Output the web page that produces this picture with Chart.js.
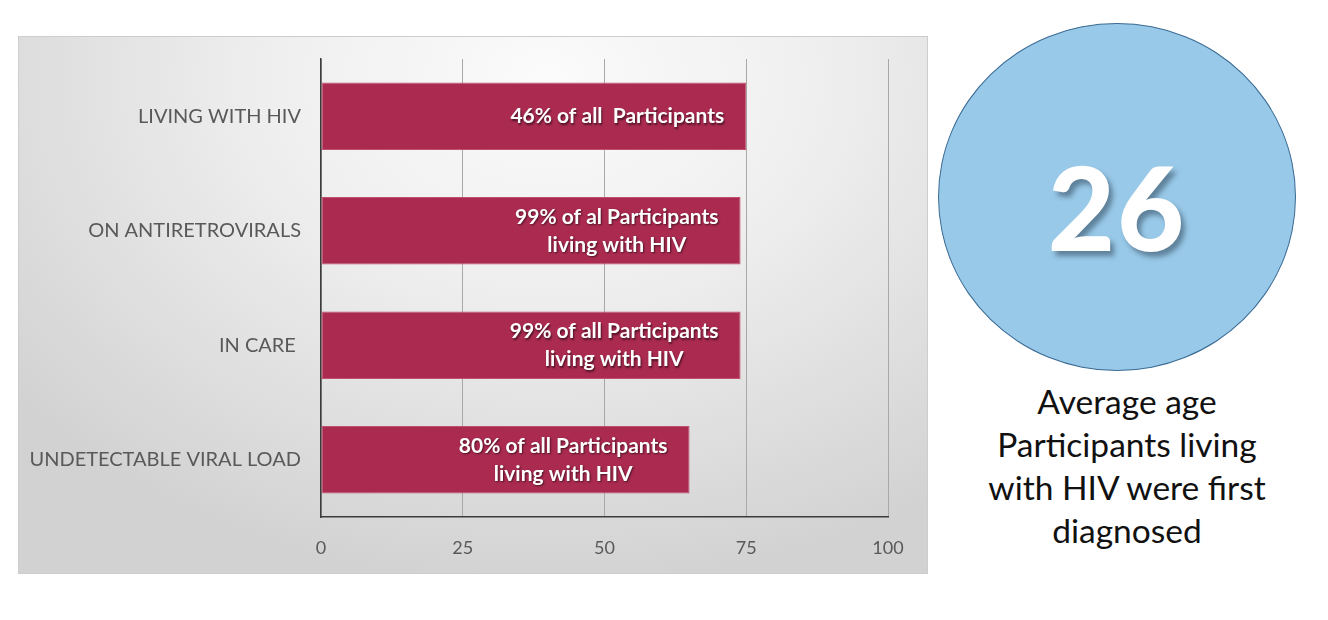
<!DOCTYPE html>
<html>
<head>
<meta charset="utf-8">
<script src="https://cdn.jsdelivr.net/npm/chart.js@4"></script>
<style>
  html, body { margin:0; padding:0; background:#ffffff; width:1328px; height:620px; overflow:hidden; }
  #panel {
    position:absolute; left:18px; top:36px; width:910px; height:538px;
    box-sizing:border-box; border:1px solid #cdcdcd;
    background: radial-gradient(ellipse 75% 95% at 58% 8%, #fbfbfb 0%, #efefef 40%, #dedede 75%, #d2d2d2 100%);
  }
  #panel canvas { position:absolute; left:0; top:0; }
  #circle {
    position:absolute; left:938px; top:23px; width:358px; height:348px;
    box-sizing:border-box; border-radius:50%;
    background:#98c9e8; border:1.5px solid #3a6a93;
  }
  #big {
    position:absolute; left:938px; top:23px; width:358px; height:348px;
    display:flex; align-items:center; justify-content:center;
    font-family: Lato, "DejaVu Sans", sans-serif; font-weight:900; font-size:116px; color:#ffffff;
    text-shadow: 4px 5px 5px rgba(40,60,80,0.5);
    padding-top:18px; box-sizing:border-box; letter-spacing:2px;
  }
  #caption {
    position:absolute; left:967px; top:380px; width:320px; text-align:center;
    font-family: Lato, "Open Sans", sans-serif; font-size:33.5px; line-height:43px; color:#111111;
  }
</style>
</head>
<body>
<div id="panel"><canvas id="c" width="910" height="538"></canvas></div>
<div id="circle"></div>
<div id="big">26</div>
<div id="caption">Average age<br>Participants living<br>with HIV were first<br>diagnosed</div>
<script>
const categories = ["LIVING WITH HIV", "ON ANTIRETROVIRALS", "IN CARE ", "UNDETECTABLE VIRAL LOAD"];
const barValues = [75, 74, 74, 65];
const barTexts = [
  ["46% of all  Participants"],
  ["99% of al Participants", "living with HIV"],
  ["99% of all Participants", "living with HIV"],
  ["80% of all Participants", "living with HIV"]
];
const xTicks = [0, 25, 50, 75, 100];

const barTextPlugin = {
  id: 'barText',
  afterDatasetsDraw(chart) {
    const ctx = chart.ctx;
    const meta = chart.getDatasetMeta(0);
    ctx.save();
    ctx.font = 'bold 21px Lato, "Open Sans", sans-serif';
    ctx.fillStyle = '#ffffff';
    ctx.textAlign = 'center';
    ctx.textBaseline = 'middle';
    ctx.shadowColor = 'rgba(0,0,0,0.55)';
    ctx.shadowOffsetX = 1;
    ctx.shadowOffsetY = 1.5;
    ctx.shadowBlur = 2;
    meta.data.forEach((bar, i) => {
      const lines = barTexts[i];
      let maxW = 0;
      lines.forEach(l => { maxW = Math.max(maxW, ctx.measureText(l).width); });
      const cx = bar.x - 22 - maxW / 2;
      const lh = 28;
      const y0 = bar.y - (lines.length - 1) * lh / 2;
      lines.forEach((l, k) => ctx.fillText(l, cx, y0 + k * lh));
    });
    ctx.restore();
  }
};

new Chart(document.getElementById('c'), {
  type: 'bar',
  data: {
    labels: categories,
    datasets: [{
      data: barValues,
      backgroundColor: '#aa2a50',
      borderColor: '#c0506f',
      borderWidth: 1,
      borderSkipped: false,
      barPercentage: 0.59,
      categoryPercentage: 1.0
    }]
  },
  options: {
    indexAxis: 'y',
    responsive: false,
    animation: false,
    devicePixelRatio: 1,
    layout: { padding: { top: 22, right: 41, left: 0, bottom: 0 } },
    plugins: { legend: { display: false }, tooltip: { enabled: false } },
    scales: {
      x: {
        min: 0, max: 100,
        afterBuildTicks(scale) { scale.ticks = xTicks.map(v => ({ value: v })); },
        afterFit(scale) { scale.height = 58; scale.paddingLeft = 0; scale.paddingRight = 0; },
        grid: { color: '#a8a8a8', lineWidth: 1, drawTicks: false },
        border: { color: '#3c3c3c', width: 1.5 },
        ticks: { color: '#595959', padding: 20, font: { family: 'Lato, "Open Sans", sans-serif', size: 18 } }
      },
      y: {
        afterFit(scale) { scale.width = 302; scale.paddingTop = 0; scale.paddingBottom = 0; },
        grid: { display: false, drawTicks: false },
        border: { color: '#3c3c3c', width: 1.5 },
        ticks: { color: '#595959', padding: 20, font: { family: 'Lato, "Open Sans", sans-serif', size: 20 } }
      }
    }
  },
  plugins: [barTextPlugin]
});
</script>
</body>
</html>
